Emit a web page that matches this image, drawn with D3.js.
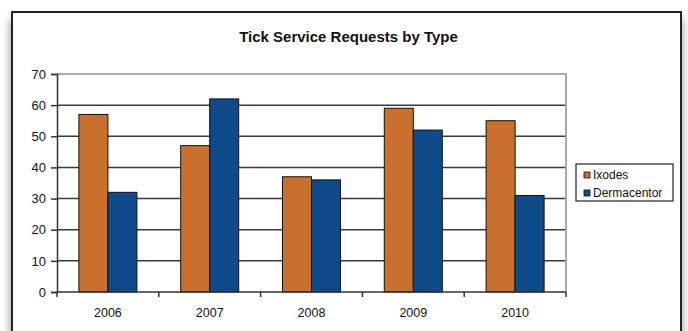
<!DOCTYPE html>
<html>
<head>
<meta charset="utf-8">
<script src="https://cdn.jsdelivr.net/npm/d3@7"></script>
<style>
  html, body { margin: 0; padding: 0; background: #fff; }
  svg { display: block; font-family: "Liberation Sans", Arial, sans-serif; }
</style>
</head>
<body>
<script>
const title = "Tick Service Requests by Type";
const years = ["2006", "2007", "2008", "2009", "2010"];
const seriesNames = ["Ixodes", "Dermacentor"];
const ixodes = [57, 47, 37, 59, 55];
const dermacentor = [32, 62, 36, 52, 31];
const yTicks = [0, 10, 20, 30, 40, 50, 60, 70];
const colors = ["#C8702C", "#0F4B8A"];

const W = 688, H = 331;
const svg = d3.select("body").append("svg").attr("width", W).attr("height", H);

const defs = svg.append("defs");
const f = defs.append("filter").attr("id", "shadow").attr("x", "-10%").attr("y", "-10%").attr("width", "120%").attr("height", "130%");
f.append("feDropShadow").attr("dx", 0).attr("dy", 8).attr("stdDeviation", 5)
  .attr("flood-color", "#000").attr("flood-opacity", 0.45);

svg.append("rect").attr("width", W).attr("height", H).attr("fill", "#fff");

// outer frame with shadow
svg.append("rect")
  .attr("x", 12).attr("y", 12).attr("width", 669).attr("height", 340)
  .attr("fill", "#fff").attr("stroke", "#222").attr("stroke-width", 2)
  .attr("filter", "url(#shadow)");

// title
svg.append("text").attr("x", 348.5).attr("y", 42)
  .attr("text-anchor", "middle").attr("font-weight", "bold").attr("font-size", 15)
  .attr("fill", "#111").text(title);

const plot = { left: 57, right: 566, top: 74, bottom: 292 };

const x = d3.scaleBand().domain(years).range([plot.left, plot.right]).padding(0);
const xs = d3.scaleBand().domain(seriesNames).range([0, x.bandwidth()]).paddingInner(0).paddingOuter(0.755);
const y = d3.scaleLinear().domain([0, 70]).range([plot.bottom, plot.top]);

// gridlines
svg.append("g").selectAll("line").data(yTicks.filter(t => t > 0 && t < 70)).join("line")
  .attr("x1", plot.left).attr("x2", plot.right)
  .attr("y1", d => y(d)).attr("y2", d => y(d))
  .attr("stroke", "#3a3a3a").attr("stroke-width", 1.5);

// plot area border (top & right gray)
svg.append("path")
  .attr("d", `M${plot.left},${y(70)}H${plot.right}V${plot.bottom}`)
  .attr("fill", "none").attr("stroke", "#aaa").attr("stroke-width", 2);

// bars
const data = years.map((yr, i) => ({ yr, vals: [ixodes[i], dermacentor[i]] }));
const groups = svg.append("g").selectAll("g").data(data).join("g")
  .attr("transform", d => `translate(${x(d.yr)},0)`);
groups.selectAll("rect").data(d => d.vals.map((v, j) => ({ v, s: seriesNames[j], j }))).join("rect")
  .attr("x", d => xs(d.s)).attr("width", xs.bandwidth())
  .attr("y", d => y(d.v)).attr("height", d => y(0) - y(d.v))
  .attr("fill", d => colors[d.j]).attr("stroke", "#111").attr("stroke-width", 1);

// y axis
const yAxis = d3.axisLeft(y).tickValues(yTicks).tickSize(6).tickPadding(5);
const gy = svg.append("g").attr("transform", `translate(${plot.left},0)`).call(yAxis);
gy.select(".domain").attr("stroke", "#333").attr("stroke-width", 1.5);
gy.selectAll(".tick line").attr("stroke", "#333").attr("stroke-width", 1.5);
gy.selectAll(".tick text").attr("font-size", 13).attr("fill", "#111")
  .attr("font-family", "'Liberation Sans', Arial, sans-serif");

// x axis
const gx = svg.append("g").attr("transform", `translate(0,${plot.bottom})`);
gx.append("line").attr("x1", plot.left).attr("x2", plot.right).attr("y1", 0).attr("y2", 0)
  .attr("stroke", "#333").attr("stroke-width", 1.5);
const bounds = years.map(d => x(d)).concat([plot.right]);
gx.selectAll("line.tk").data(bounds).join("line").attr("class", "tk")
  .attr("x1", d => d).attr("x2", d => d).attr("y1", 0).attr("y2", 5)
  .attr("stroke", "#333").attr("stroke-width", 1.5);
gx.selectAll("text").data(years).join("text")
  .attr("x", d => x(d) + x.bandwidth() / 2).attr("y", 25)
  .attr("text-anchor", "middle").attr("font-size", 12.5).attr("fill", "#111").text(d => d);

// legend
const lg = svg.append("g");
lg.append("rect").attr("x", 576).attr("y", 164).attr("width", 97).attr("height", 37)
  .attr("fill", "#fff").attr("stroke", "#222").attr("stroke-width", 1.2);
const items = lg.selectAll("g").data(seriesNames).join("g")
  .attr("transform", (d, i) => `translate(584,${172 + i * 18})`);
items.append("rect").attr("width", 6).attr("height", 6)
  .attr("fill", (d, i) => colors[i]).attr("stroke", "#111").attr("stroke-width", 0.8);
items.append("text").attr("x", 9).attr("y", 7).attr("font-size", 12).attr("fill", "#111").text(d => d);
</script>
</body>
</html>
